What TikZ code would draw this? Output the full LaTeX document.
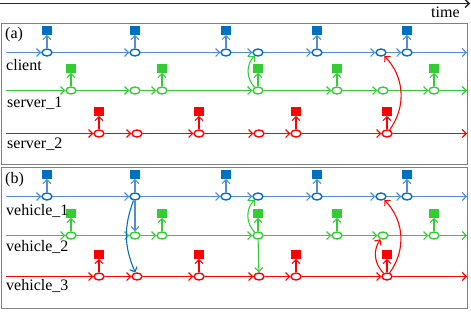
\documentclass[tikz,border=0pt]{standalone}
\usepackage{fontspec}
\setmainfont{Liberation Serif}
\usetikzlibrary{shapes.geometric,arrows.meta,positioning}
\definecolor{bcirc}{RGB}{0,112,192}
\definecolor{bline}{RGB}{84,141,212}
\definecolor{gcol}{RGB}{51,204,51}
\definecolor{rcol}{RGB}{255,0,0}
\definecolor{framegray}{RGB}{128,128,128}
\newcommand\mkrow[7]{%
  % #1 prefix, #2 y, #3 circle colour, #4 line colour, #5 x list, #6 square indices, #7 last index
  \coordinate (#1s) at (6,#2);
  \coordinate (#1e) at (467,#2);
  \foreach \x [count=\i] in {#5} {\node[ev=#3] (#1n\i) at (\x,#2) {};}
  \foreach \x [count=\i, remember=\i as \p (initially s)] in {#5} {%
    \ifnum\i=1 \draw[tl,#4] (#1s) -- (#1n1);\else \draw[tl,#4] (#1n\p) -- (#1n\i);\fi}
  \draw[tl,#4] (#1n#7) -- (#1e);
  \foreach \k in {#6} {\node[sq=#3, above=13.5pt of #1n\k] (#1q\k) {};
    \draw[tl,#4] (#1n\k) -- (#1q\k);}
}
\begin{document}
\begin{tikzpicture}[x=1pt,y=-1pt,
  ev/.style={ellipse, draw=#1, fill=white, line width=1.4pt, minimum width=10pt, minimum height=7pt, inner sep=0pt},
  sq/.style={rectangle, fill=#1, minimum width=10pt, minimum height=8.5pt, inner sep=0pt},
  tl/.style={line width=1.1pt, -{Straight Barb[length=4pt,width=8pt]}},
  lbl/.style={font=\fontsize{16}{19}\selectfont, inner sep=0pt, anchor=base west},
  frame/.style={draw=framegray, line width=1pt}]
\useasboundingbox (0,0) rectangle (471,311);
% time axis
\coordinate (t0) at (0,3.5);
\coordinate (t1) at (470,3.5);
\draw[line width=1.3pt, black!85, -{Straight Barb[length=4pt,width=8pt]}] (t0) -- (t1);
\node[lbl] (time) at (431,17) {time};
% frames
\draw[frame] (1.5,23.5) rectangle (467.5,164.5);
\draw[frame] (1.5,167.5) rectangle (467.5,308.5);
% panel (a)
\node[lbl] (la) at (5,38) {(a)};
\mkrow{aa}{52.5}{bcirc}{bline}{47,135,226,258,317,381,407}{1,2,3,5,7}{7}
\mkrow{ab}{90.5}{gcol}{gcol}{71,135,162,258,337,383,434}{1,3,4,5,7}{7}
\mkrow{ac}{133.5}{rcol}{rcol}{99,137,199,259,296,387}{1,3,5,6}{6}
\node[lbl] (lclient) at (6,70) {client};
\node[lbl] (lserv1) at (7,107.5) {server\_1};
\node[lbl] (lserv2) at (7,148) {server\_2};
\draw[tl,gcol] (abn4) to[bend left=45] (aan4);
\draw[tl,rcol] (acn6) to[bend right=40] (aan6);
% panel (b)
\node[lbl] (lb) at (5,183) {(b)};
\mkrow{ba}{196.5}{bcirc}{bline}{47,135,226,258,317,381,407}{1,2,3,5,7}{7}
\mkrow{bb}{235.5}{gcol}{gcol}{71,135,162,258,337,383,434}{1,3,4,5,7}{7}
\mkrow{bc}{276.5}{rcol}{rcol}{99,137,199,259,296,387}{1,3,5,6}{6}
\node[lbl] (lv1) at (6,215) {vehicle\_1};
\node[lbl] (lv2) at (6,251.5) {vehicle\_2};
\node[lbl] (lv3) at (6,290.5) {vehicle\_3};
\draw[tl,bline] (ban2) -- (bbn2);
\draw[tl,bcirc] (ban2) to[bend right=22] (bcn2);
\draw[tl,gcol] (bbn4) to[bend left=45] (ban4);
\draw[tl,gcol] (bbn4) -- (bcn4);
\draw[tl,rcol] (bcn6) to[bend right=40] (ban6);
\draw[tl,rcol] (bcn6) to[bend left=40] (bbn6);
\end{tikzpicture}
\end{document}
